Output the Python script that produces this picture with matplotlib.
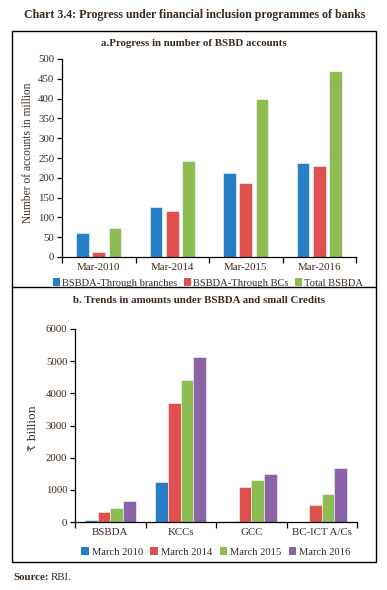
import matplotlib
matplotlib.use("Agg")
import matplotlib.pyplot as plt
import numpy as np
from matplotlib.patches import Patch, Rectangle
from matplotlib.lines import Line2D

plt.rcParams['font.family'] = ['Liberation Serif', 'DejaVu Serif', 'DejaVu Sans']

# ---- Data ----
periods_a = ["Mar-2010", "Mar-2014", "Mar-2015", "Mar-2016"]
series_a = ["BSBDA-Through branches", "BSBDA-Through BCs", "Total BSBDA"]
branches = [60, 126, 211, 238]
bcs = [13, 117, 188, 231]
total_bsbda = [74, 243, 398, 469]

cats_b = ["BSBDA", "KCCs", "GCC", "BC-ICT A/Cs"]
series_b = ["March 2010", "March 2014", "March 2015", "March 2016"]
m2010 = [50, 1240, 35, 7]
m2014 = [320, 3684, 1097, 524]
m2015 = [435, 4420, 1302, 859]
m2016 = [641, 5131, 1493, 1690]

blue = "#2680C6"
red = "#E0504F"
green = "#8DBC52"
purple = "#8965A8"
edge = (1, 1, 1, 0.55)
tc = "#3A2A1E"

W, H = 387, 590
fig = plt.figure(figsize=(W / 100, H / 100), dpi=100)

def fx(x): return x / W
def fy(y): return 1 - y / H

# outer box and separator
fig.patches.append(Rectangle((fx(12), fy(562)), fx(376) - fx(12), fy(31) - fy(562),
                             transform=fig.transFigure, fill=False, lw=1.0, ec="black"))
fig.lines.append(Line2D([fx(12), fx(376)], [fy(287), fy(287)], transform=fig.transFigure,
                        color="black", lw=1.0))

fig.text(fx(195), fy(15), "Chart 3.4: Progress under financial inclusion programmes of banks",
         ha="center", va="center", fontsize=8.6, fontweight="bold", color=tc)
fig.text(fx(194), fy(43), "a.Progress in number of BSBD accounts",
         ha="center", va="center", fontsize=7.8, fontweight="bold", color=tc)
fig.text(fx(199), fy(301), "b. Trends in amounts under BSBDA and small Credits",
         ha="center", va="center", fontsize=7.8, fontweight="bold", color=tc)
fig.text(fx(13), fy(577), "Source:", ha="left", va="center", fontsize=7.8,
         fontweight="bold", color=tc)
fig.text(fx(51), fy(577), "RBI.", ha="left", va="center", fontsize=7.8, color=tc)

def style_axes(ax, n):
    for s in ["top", "right"]:
        ax.spines[s].set_visible(False)
    for s in ["left", "bottom"]:
        ax.spines[s].set_linewidth(0.9)
    ax.set_xlim(0, n)
    ax.set_xticks(np.arange(n) + 0.5)
    ax.set_xticks(np.arange(n + 1), minor=True)
    ax.tick_params(axis="x", which="major", length=0, labelsize=7.8, pad=4, labelcolor=tc)
    ax.tick_params(axis="x", which="minor", length=4, width=0.9, direction="out")
    ax.tick_params(axis="y", length=3.5, width=0.9, direction="out", labelsize=7.8,
                   pad=2, labelcolor=tc)

# ---- Panel a ----
axa = fig.add_axes([fx(62), fy(257), fx(356) - fx(62), fy(59) - fy(257)])
xa = np.arange(len(periods_a)) + 0.5
w = 0.172
step = 0.222
for i, (vals, col) in enumerate(zip([branches, bcs, total_bsbda], [blue, red, green])):
    axa.bar(xa + (i - 1) * step, vals, width=w, color=col, edgecolor=edge, linewidth=0.7,
            label=series_a[i])
style_axes(axa, len(periods_a))
axa.set_xticklabels(periods_a)
axa.set_ylim(0, 500)
axa.set_yticks(np.arange(0, 501, 50))
fig.text(fx(28), fy(153), "Number of accounts in million", rotation=90, ha="center",
         va="center", fontsize=8.3, color=tc)

handles_a = [Patch(facecolor=c, edgecolor="none") for c in [blue, red, green]]
fig.legend(handles_a, series_a, loc="center", bbox_to_anchor=(fx(208), fy(283)), ncol=3,
           frameon=False, fontsize=7.6, handlelength=0.7, handleheight=0.7,
           handletextpad=0.2, columnspacing=0.6, borderpad=0, labelcolor=tc)

# ---- Panel b ----
axb = fig.add_axes([fx(75), fy(522), fx(357) - fx(75), fy(329) - fy(522)])
xb = np.arange(len(cats_b)) + 0.5
wb = 0.18
for i, (vals, col) in enumerate(zip([m2010, m2014, m2015, m2016], [blue, red, green, purple])):
    axb.bar(xb + (i - 1.5) * wb, vals, width=wb, color=col, edgecolor=edge, linewidth=0.7,
            label=series_b[i])
style_axes(axb, len(cats_b))
axb.set_xticklabels(cats_b)
axb.set_ylim(0, 6000)
axb.set_yticks(np.arange(0, 6001, 1000))
fig.text(fx(33), fy(428), "₹ billion", rotation=90, ha="center", va="center",
         fontsize=8, color=tc, family=['DejaVu Serif', 'DejaVu Sans'])

handles_b = [Patch(facecolor=c, edgecolor="none") for c in [blue, red, green, purple]]
fig.legend(handles_b, series_b, loc="center", bbox_to_anchor=(fx(216), fy(552)), ncol=4,
           frameon=False, fontsize=7.6, handlelength=0.7, handleheight=0.7,
           handletextpad=0.3, columnspacing=0.7, borderpad=0, labelcolor=tc)

fig.savefig("out.png", dpi=100)
